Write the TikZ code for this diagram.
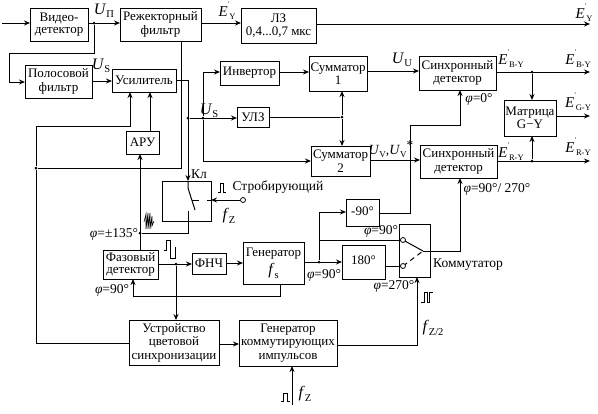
\documentclass[tikz,border=0pt]{standalone}
\usepackage{fontspec}
\setmainfont{Liberation Serif}
\usetikzlibrary{arrows.meta,calc}
\newcommand{\Ui}[1]{{\fontsize{16}{16}\selectfont\textit{U}}\raisebox{-3pt}{\fontsize{10.5}{10.5}\selectfont #1}}
\newcommand{\Uv}{{\fontsize{14}{14}\selectfont\textit{U}}\raisebox{-3pt}{\fontsize{9}{9}\selectfont V}}
\newcommand{\Ep}[1]{{\fontsize{15}{15}\selectfont\textit{E}}\raisebox{10pt}{\fontsize{7}{7}\selectfont\textit{\char"2032}}\raisebox{-3pt}{\fontsize{8.5}{8.5}\selectfont #1}}
\newcommand{\Fi}[1]{{\fontsize{16}{16}\selectfont\textit{f}}\raisebox{-4pt}{\fontsize{10.5}{10.5}\selectfont #1}}
\newcommand{\ph}{\textit{φ}}
\newcommand{\bx}[6]{\node[bx,minimum width={#4-#2},minimum height={#5-#3}] (#1) at ({(#2+#4)/2},{(#3+#5)/2}) {#6};}
\newcommand{\lb}[4]{\node[lbl] (#1) at (#2,#3) {#4};}
\tikzset{
 bx/.style={draw,align=center,inner sep=0pt,outer sep=0pt,line width=1pt,font=\fontsize{13}{13.5}\selectfont},
 lbl/.style={inner sep=0pt,outer sep=0pt,font=\fontsize{13.5}{13.5}\selectfont},
 wire/.style={line width=1pt},
 arr/.style={line width=1pt,-{Stealth[length=6pt,width=5pt]}},
 dot/.style={circle,fill=black,inner sep=0pt,minimum size=3pt},
 ring/.style={circle,draw,fill=white,inner sep=0pt,minimum size=5pt,line width=.8pt},
 pulse/.style={line width=.8pt}
}
\begin{document}
\begin{tikzpicture}[x=1pt,y=-1pt]
\useasboundingbox (0,0) rectangle (598,413);
% boxes
\bx{vd}{30}{8}{88}{41}{Видео-\\[-1pt]детектор}
\bx{rf}{120}{8}{201}{41}{Режекторный\\[1pt]фильтр}
\bx{lz}{241}{8}{316}{43}{ЛЗ\\0,4...0,7 мкс}
\bx{pf}{25}{65}{92}{98}{Полосовой\\[1pt]фильтр}
\bx{us}{112}{69}{176}{92}{Усилитель}
\bx{aru}{126}{131}{159}{154}{АРУ}
\bx{inv}{220}{61}{279}{85}{Инвертор}
\bx{ulz}{237}{107}{269}{127}{УЛЗ}
\bx{s1}{309}{56}{367}{91}{Сумматор\\1}
\bx{s2}{311}{146}{370}{176}{Сумматор\\2}
\bx{sd1}{419}{56}{496}{90}{Синхронный\\детектор}
\bx{sd2}{420}{145}{497}{178}{Синхронный\\детектор}
\bx{mx}{504}{100}{556}{136}{Матрица\\G−Y}
\bx{kl}{162}{181}{211}{221}{}
\bx{fd}{103}{250}{158}{279}{Фазовый\\[-1pt]детектор}
\bx{fnch}{192}{253}{226}{274}{ФНЧ}
\bx{gen}{243}{242}{304}{284}{Генератор\\[3pt]\Fi{s}}
\bx{m90}{346}{199}{379}{226}{\raisebox{2pt}{-90°}}
\bx{r180}{342}{245}{385}{279}{\raisebox{3pt}{180°}}
\bx{kom}{399}{224}{430}{277}{}
\bx{ucs}{129}{320}{219}{365}{Устройство\\цветовой\\синхронизации}
\bx{gki}{239}{320}{337}{366}{Генератор\\коммутирующих\\импульсов}
% free ends and contact points
\coordinate (in) at (2,23);
\coordinate (ey) at (590,24);
\coordinate (eby) at (590,72);
\coordinate (egy) at (590,116);
\coordinate (ery) at (590,161);
\coordinate (fzin) at (292,405);
\node[dot] (d1) at (94,23) {};
\node[dot] (d2) at (36,168) {};
\node[dot] (d3) at (188,118) {};
\node[dot] (d4) at (203,118) {};
\node[dot] (d5) at (342,117) {};
\node[dot] (d6) at (532,72) {};
\node[dot] (d7) at (532,161) {};
\node[dot] (d8) at (140,233) {};
\node[dot] (d9) at (176,264) {};
\node[dot] (d10) at (319,262) {};
\node[ring] (strobe) at (243,200) {};
\coordinate (cout) at (423,251);
% connectors
\draw[arr] (in) -- (vd.west|-in);
\draw[arr] (vd.east|-in) -- (rf.west|-in);
\draw[wire] (d1) -- (94,53) -- (9,53) -- (9,82);
\draw[arr] (9,82) -- (pf.west|-9,82);
\draw[arr] (rf.east|-in) -- (lz.west|-in);
\draw[arr] (lz.east|-ey) -- (ey);
\draw[wire] (rf.south-|181,0) -- (181,168) -- (d2);
\draw[wire] (36,126) -- (d2) -- (36,343) -- (ucs.west|-36,343);
\draw[arr] (36,126) -- (130,126) -- (us.south-|130,0);
\draw[arr] (aru.north-|150,0) -- (us.south-|150,0);
\draw[arr] (pf.east|-0,81) -- (us.west|-0,81);
\draw[arr] (us.east|-0,80) -- (188,80) -- (kl.north-|188,0);
\draw[arr] (d3) -- (ulz.west|-d3);
\draw[arr] (203,72) -- (inv.west|-203,72);
\draw[wire] (203,72) -- (d4) -- (203,161);
\draw[arr] (203,161) -- (s2.west|-203,161);
\draw[arr] (inv.east|-0,72) -- (s1.west|-0,72);
\draw[wire] (ulz.east|-d5) -- (d5);
\draw[arr] (d5) -- (s1.south-|d5);
\draw[arr] (d5) -- (s2.north-|d5);
\draw[arr] (s1.east|-0,71) -- (sd1.west|-0,71);
\draw[arr] (s2.east|-0,160) -- (sd2.west|-0,160);
\draw[arr] (sd1.east|-eby) -- (eby);
\draw[arr] (d6) -- (mx.north-|d6);
\draw[arr] (sd2.east|-ery) -- (ery);
\draw[arr] (d7) -- (mx.south-|d7);
\draw[arr] (mx.east|-egy) -- (egy);
\draw[arr] (m90.east|-0,213) -- (410,213) -- (410,125) -- (460,125) -- (sd1.south-|460,0);
\draw[arr] (cout) -- (460,251) -- (sd2.south-|460,0);
\draw[arr] (strobe) -- (kl.east|-strobe);
\draw[wire] (188,181) -- (188,188) -- (195,210);
\draw[wire] (192,200) -- (199,200) (207,200) -- (211,200);
\draw[wire] (188,211) -- (188,233) -- (d8);
\draw[arr] (fd.north-|d8) -- (aru.south-|d8);
\draw[arr] (fd.east|-d9) -- (fnch.west|-d9);
\draw[arr] (d9) -- (ucs.north-|d9);
\draw[arr] (fnch.east|-0,263) -- (gen.west|-0,263);
\draw[wire] (gen.south-|280,0) -- (280,296) -- (133,296);
\draw[arr] (133,296) -- (fd.south-|133,0);
\draw[arr] (gen.east|-d10) -- (r180.west|-d10);
\draw[arr] (d10) -- (319,212) -- (m90.west|-0,212);
\draw[wire] (319,240) -- (403,240);
\draw[wire] (r180.east|-0,266) -- (403,266);
\draw[wire] (403,240) -- (cout);
\draw[wire,dash pattern=on 5pt off 4pt] (403,266) -- (cout);
\node[ring] (c1) at (403,240) {};
\node[ring] (c2) at (403,266) {};
\draw[arr] (ucs.east|-0,344) -- (gki.west|-0,344);
\draw[arr] (gki.east|-0,345) -- (417,345) -- (kom.south-|417,0);
\draw[arr] (fzin) -- (gki.south-|fzin);
% labels
\lb{l1}{104}{11}{\Ui{П}}
\lb{l2}{101}{66}{\Ui{S}}
\lb{l3}{227}{11}{\Ep{Y}}
\lb{l4}{584}{13}{\Ep{Y}}
\lb{l5}{209}{111}{\Ui{S}}
\lb{l6}{402}{60}{\Ui{U}}
\lb{l7}{511}{59}{\Ep{B-Y}}
\lb{l8}{578}{59}{\Ep{B-Y}}
\lb{l9}{578}{102}{\Ep{G-Y}}
\lb{l10}{511}{152}{\Ep{R-Y}}
\lb{l11}{578}{147}{\Ep{R-Y}}
\lb{l12}{391}{149}{\Uv,\Uv\raisebox{5pt}{*}}
\lb{l13}{479}{99}{\ph=0°}
\lb{l14}{497}{189}{\ph=90°/ 270°}
\lb{l15}{114}{234}{\ph=±135°}
\lb{l16}{112}{290}{\ph=90°}
\lb{l17}{381}{231}{\ph=90°}
\lb{l18}{324}{275}{\ph=90°}
\lb{l19}{394}{286}{\ph=270°}
\lb{l20}{468}{265}{Коммутатор}
\lb{l21}{278}{187}{Стробирующий}
\lb{l22}{199}{174}{Кл}
\lb{l23}{229}{216}{\Fi{Z}}
\lb{l24}{433}{328}{{\fontsize{16}{16}\selectfont\textit{f}}\raisebox{-4pt}{\fontsize{10.5}{10.5}\selectfont Z/2}}
\lb{l25}{305}{394}{\Fi{Z}}
% pulse marks
\draw[pulse] (218,192) -- (220,192) -- (220,183) -- (223,183) -- (223,192) -- (226,192);
\draw[pulse] (164,250) -- (166,250) -- (166,240) -- (170,240) -- (170,258) -- (175,258) -- (175,247);
\draw[pulse] (421,302) -- (424,302) -- (424,292) -- (427,292) -- (427,302) -- (429,302) -- (429,292) -- (433,292);
\draw[pulse] (281,401) -- (283,401) -- (283,393) -- (287,393) -- (287,401) -- (290,401);
% burst
\draw[line width=.6pt] (144,222) -- ++(2,-8) -- ++(0,15) -- ++(2,-16) -- ++(0,16) -- ++(2,-16) -- ++(0,16) -- ++(2,-13) -- ++(0,10) -- ++(2,-5);
\end{tikzpicture}
\end{document}
